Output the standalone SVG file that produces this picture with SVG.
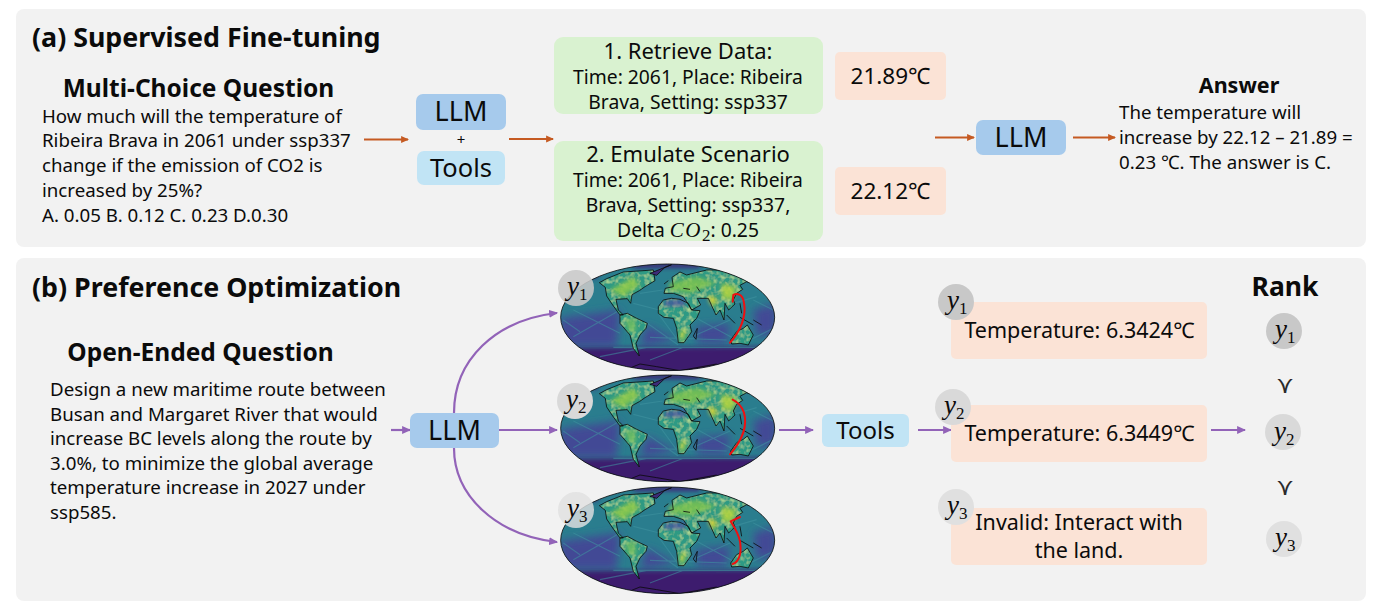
<svg xmlns="http://www.w3.org/2000/svg" width="1380" height="615" viewBox="0 0 1380 615">
<style>
text{font-family:"Noto Sans","Liberation Sans","Noto Sans CJK SC",sans-serif;fill:#0b0b0b}
.h{font-weight:700}
.m{text-anchor:middle}
.b{font-size:18.7px}
.s{font-size:19.3px}
.t{font-size:22px}
.v{font-size:22.5px}
.r{font-size:21.5px}
.prec{font-family:"DejaVu Sans",sans-serif;font-size:24px;fill:#2a2a2a}
.math{font-family:"Liberation Serif",serif;font-style:italic;font-size:27px}
.sub{font-family:"Liberation Serif",serif;font-size:17px;font-style:normal}
.panel{fill:#f2f2f2}
.llm{fill:#a6caec}
.tool{fill:#c1e4f5}
.g{fill:#d9f2d0}
.o{fill:#fbe3d6}
.ca{stroke:#c55a22;stroke-width:2;fill:none;marker-end:url(#ah)}
.cb{stroke:#9263b8;stroke-width:2.2;fill:none;marker-end:url(#bh)}
.coast{fill:none;stroke:#0a0a0a;stroke-width:2.4;stroke-linejoin:round}
.ray{stroke:#3f93a0;stroke-width:3.500;fill:none;opacity:.55}
.route{stroke:#f01010;stroke-width:6;fill:none;stroke-linecap:round;stroke-linejoin:round}
</style>
<defs>
<marker id="ah" markerWidth="8" markerHeight="8" refX="6" refY="3" orient="auto" markerUnits="userSpaceOnUse" viewBox="0 0 7 6"><path d="M0,0L7,3L0,6Z" fill="#c55a22"/></marker>
<marker id="bh" markerWidth="9" markerHeight="9" refX="7" refY="3.500" orient="auto" markerUnits="userSpaceOnUse" viewBox="0 0 8 7"><path d="M0,0L8,3.500L0,7Z" fill="#9263b8"/></marker>
<clipPath id="globe"><ellipse cx="383" cy="172" rx="321" ry="160"/></clipPath>
<filter id="bl" x="-30%" y="-30%" width="160%" height="160%"><feGaussianBlur stdDeviation="12"/></filter>
<filter id="bs" x="-30%" y="-30%" width="160%" height="160%"><feGaussianBlur stdDeviation="6"/></filter>
<filter id="speck" x="0" y="0" width="100%" height="100%">
<feTurbulence type="fractalNoise" baseFrequency=".07" numOctaves="2" seed="4"/>
<feColorMatrix values="0 0 0 0 .55  0 0 0 0 .8  0 0 0 0 .3  1.6 0 0 0 -.7"/>
<feGaussianBlur stdDeviation="1.800"/>
<feComposite in2="SourceAlpha" operator="in" result="n"/>
<feMerge><feMergeNode in="SourceGraphic"/><feMergeNode in="n"/></feMerge>
</filter>
<path id="shapes" d="M196,82L178,68L200,56L250,36L340,30L345,62L315,80L298,92L276,104L272,130L262,116L228,118L235,150L250,165L240,165L218,135L200,108Z
M240,165L262,160L290,175L322,190L318,205L300,225L288,250L298,288L280,265L270,225L240,190Z
M355,140L370,120L395,115L420,118L445,130L455,150L480,152L470,175L450,195L455,215L432,248L415,248L410,205L400,175L372,172L355,160Z
M372,100L376,85L400,80L396,52L420,36L440,45L500,30L560,30L610,45L652,72L620,65L600,76L608,88L590,100L580,120L585,132L566,150L555,130L552,180L540,150L528,165L505,115L472,115L482,135L455,150L440,125L430,110L400,100Z
M572,240L590,215L610,205L622,195L640,225L625,255L600,250L575,252Z"/>
<g id="map">
<ellipse cx="383" cy="172" rx="321" ry="160" fill="#2a7d8e"/>
<g clip-path="url(#globe)">
<g filter="url(#bl)" fill="#424a95">
<path d="M60,175L240,150L230,260L60,260Z"/>
<path d="M320,195L410,240L300,260Z"/>
<path d="M640,150L710,130L710,220L650,230Z"/>
<path d="M470,200L570,190L560,250L470,250Z"/>
</g>
<path d="M60,265L700,260L700,340L60,340Z" fill="#3d1c6e" filter="url(#bs)"/>
<path d="M130,18L190,18L170,55L130,55Z M280,8L480,8L480,24L280,24Z" fill="#3d2b78" filter="url(#bs)"/>
<path class="ray" d="M100,230L240,150M100,150L240,220M322,190L415,255M330,232L560,240M358,165L420,250M468,225L570,180M470,175L590,240M630,240L700,205M640,120L700,150M300,100L368,90M280,130L358,150M580,130L650,110M120,215L70,180M220,262L700,262M180,290L320,262M330,300L430,262"/>
<use href="#shapes" fill="#2f9a84" filter="url(#speck)"/>
<g filter="url(#bs)" opacity=".85">
<path d="M210,90L280,50L300,75L250,110Z" fill="#8fca48"/>
<path d="M385,70L470,50L530,70L450,100L390,90Z" fill="#7dc34f"/>
<path d="M545,70L590,80L578,120L545,115Z" fill="#b8d63e"/>
<path d="M505,105L530,115L525,140L510,130Z" fill="#eedc2c"/>
<path d="M255,180L285,175L290,215L265,215Z" fill="#6fbe60"/>
<path d="M420,215L438,205L432,240L420,240Z" fill="#c9da3a"/>
</g>
<path d="M372,122L436,118L436,138L372,138Z" fill="#4650a0" filter="url(#bs)" opacity=".85"/>
<g class="coast">
<use href="#shapes"/>
<path d="M330,40L395,14L375,22L350,46Z" fill="#3d2b78"/>
<path d="M460,228L472,205L468,238Z"/>
<path d="M560,165L585,190M600,172L640,195M600,130L605,160M640,180L665,195"/>
<path d="M275,322L300,312L350,320L420,332L530,312"/>
<path d="M430,85L450,88M470,80L480,95M385,62L372,72"/>
</g>
</g>
<ellipse cx="383" cy="172" rx="321" ry="160" fill="none" stroke="#0a0a0a" stroke-width="2.4"/>
</g>
</defs>

<rect class="panel" x="16" y="9" width="1350" height="238" rx="8"/>
<rect class="panel" x="16" y="258" width="1350" height="343" rx="8"/>

<g id="connectors">
<path class="ca" d="M364,139.500H408"/>
<path class="ca" d="M509,139H553"/>
<path class="ca" d="M935,137.500H974"/>
<path class="ca" d="M1073,137.500H1115"/>
<path class="cb" d="M391,430H410"/>
<path class="cb" d="M499,430H557"/>
<path class="cb" d="M454,413C454,360 495,320 557,313"/>
<path class="cb" d="M454,448C454,495 495,535 557,542"/>
<path class="cb" d="M779,430H813"/>
<path class="cb" d="M918,430H951"/>
<path class="cb" d="M1211,430H1245"/>
</g>

<g id="title-a"><text class="h" x="32" y="47" font-size="26.800">(a) Supervised Fine-tuning</text></g>
<g id="question-a">
<text class="h m" x="198.500" y="97" font-size="24.500">Multi-Choice Question</text>
<text class="b" x="42" y="123">How much will the temperature of</text>
<text class="b" x="42" y="147">Ribeira Brava in 2061 under ssp337</text>
<text class="b" x="42" y="172">change if the emission of CO2 is</text>
<text class="b" x="42" y="197">increased by 25%?</text>
<text class="b" x="42" y="222">A. 0.05 B. 0.12 C. 0.23 D.0.30</text>
</g>
<g id="llm-a"><rect class="llm" x="416" y="94" width="90" height="36" rx="7"/><text class="m" x="461" y="121" font-size="27">LLM</text></g>
<g id="plus"><text class="m" x="461" y="145" font-size="15">+</text></g>
<g id="tools-a"><rect class="tool" x="417" y="151" width="88" height="34" rx="7"/><text class="m" x="461" y="177" font-size="25.500">Tools</text></g>
<g id="retrieve"><rect class="g" x="554" y="37" width="269" height="77" rx="9"/>
<text class="m t" x="688" y="59">1. Retrieve Data:</text>
<text class="m s" x="688" y="84">Time: 2061, Place: Ribeira</text>
<text class="m s" x="688" y="109">Brava, Setting: ssp337</text></g>
<g id="emulate"><rect class="g" x="554" y="141" width="269" height="100" rx="9"/>
<text class="m t" x="688" y="162">2. Emulate Scenario</text>
<text class="m s" x="688" y="187">Time: 2061, Place: Ribeira</text>
<text class="m s" x="688" y="212">Brava, Setting: ssp337,</text>
<text class="m s" x="688" y="237">Delta <tspan class="math" style="font-size:21px;letter-spacing:1.500px">CO</tspan><tspan class="sub" dy="4">2</tspan><tspan dy="-4">: 0.25</tspan></text></g>
<g id="val1"><rect class="o" x="835" y="52" width="111" height="48" rx="5"/><text class="m v" x="890.500" y="84">21.89℃</text></g>
<g id="val2"><rect class="o" x="835" y="167" width="111" height="48" rx="5"/><text class="m v" x="890.500" y="199">22.12℃</text></g>
<g id="llm-a2"><rect class="llm" x="976" y="120" width="90" height="35" rx="7"/><text class="m" x="1021" y="147" font-size="27">LLM</text></g>
<g id="answer">
<text class="h m" x="1239" y="93" font-size="21.500">Answer</text>
<text class="b" x="1119" y="119">The temperature will</text>
<text class="b" x="1119" y="144">increase by 22.12 – 21.89 =</text>
<text class="b" x="1119" y="169">0.23 ℃. The answer is C.</text>
</g>

<g id="title-b"><text class="h" x="32" y="297" font-size="26.800">(b) Preference Optimization</text></g>
<g id="question-b">
<text class="h m" x="200.500" y="361" font-size="24.500">Open-Ended Question</text>
<text class="b" x="50" y="396">Design a new maritime route between</text>
<text class="b" x="50" y="421">Busan and Margaret River that would</text>
<text class="b" x="50" y="445">increase BC levels along the route by</text>
<text class="b" x="50" y="470">3.0%, to minimize the global average</text>
<text class="b" x="50" y="494">temperature increase in 2027 under</text>
<text class="b" x="50" y="519">ssp585.</text>
</g>
<g id="llm-b"><rect class="llm" x="410" y="413" width="89" height="35" rx="7"/><text class="m" x="454.500" y="440" font-size="27">LLM</text></g>

<g id="map1"><g transform="translate(540,260) scale(.3333)"><use href="#map"/><path class="route" d="M570,248C600,215 620,170 612,128C608,100 590,100 580,105L578,125"/></g>
<circle cx="576" cy="288" r="18" fill="#c8c8c8" fill-opacity=".88"/><text class="math" x="567" y="295">y<tspan class="sub" dy="5">1</tspan></text></g>
<g id="map2"><g transform="translate(540,371) scale(.3333)"><use href="#map"/><path class="route" d="M570,250C600,215 625,170 612,125C605,105 590,92 578,86"/></g>
<circle cx="575" cy="401" r="18" fill="#d9d9d9"/><text class="math" x="566" y="408">y<tspan class="sub" dy="5">2</tspan></text></g>
<g id="map3"><g transform="translate(540,483) scale(.3333)"><use href="#map"/><path class="route" d="M578,243C600,235 605,205 600,175C595,150 585,135 572,115L600,102"/></g>
<circle cx="576" cy="510" r="18" fill="#e0e0e0" fill-opacity=".82"/><text class="math" x="567" y="517">y<tspan class="sub" dy="5">3</tspan></text></g>

<g id="tools-b"><rect class="tool" x="822" y="414" width="87" height="33" rx="6"/><text class="m" x="865.500" y="439" font-size="24">Tools</text></g>

<g id="res1"><rect class="o" x="951" y="302" width="256" height="57" rx="5"/><text class="m r" x="1079.500" y="338">Temperature: 6.3424℃</text>
<circle cx="956" cy="302" r="18" fill="#c8c8c8"/><text class="math" x="947" y="309">y<tspan class="sub" dy="5">1</tspan></text></g>
<g id="res2"><rect class="o" x="951" y="405" width="256" height="57" rx="5"/><text class="m r" x="1079.500" y="441">Temperature: 6.3449℃</text>
<circle cx="953" cy="407" r="18" fill="#d9d9d9"/><text class="math" x="944" y="414">y<tspan class="sub" dy="5">2</tspan></text></g>
<g id="res3"><rect class="o" x="951" y="508" width="256" height="57" rx="5"/><text class="m r" x="1079" y="530">Invalid: Interact with</text><text class="m r" x="1079" y="558">the land.</text>
<circle cx="956" cy="507" r="18" fill="#e0e0e0"/><text class="math" x="947" y="514">y<tspan class="sub" dy="5">3</tspan></text></g>

<g id="rank">
<text class="h m" x="1285" y="296" font-size="26.500">Rank</text>
<circle cx="1284" cy="331" r="18" fill="#c8c8c8"/><text class="math" x="1275" y="338">y<tspan class="sub" dy="5">1</tspan></text>
<text class="m prec" x="1285" y="393">⋎</text>
<circle cx="1283" cy="432" r="18" fill="#d9d9d9"/><text class="math" x="1274" y="440">y<tspan class="sub" dy="5">2</tspan></text>
<text class="m prec" x="1285" y="495">⋎</text>
<circle cx="1284" cy="539" r="18" fill="#e0e0e0"/><text class="math" x="1275" y="546">y<tspan class="sub" dy="5">3</tspan></text>
</g>
</svg>
